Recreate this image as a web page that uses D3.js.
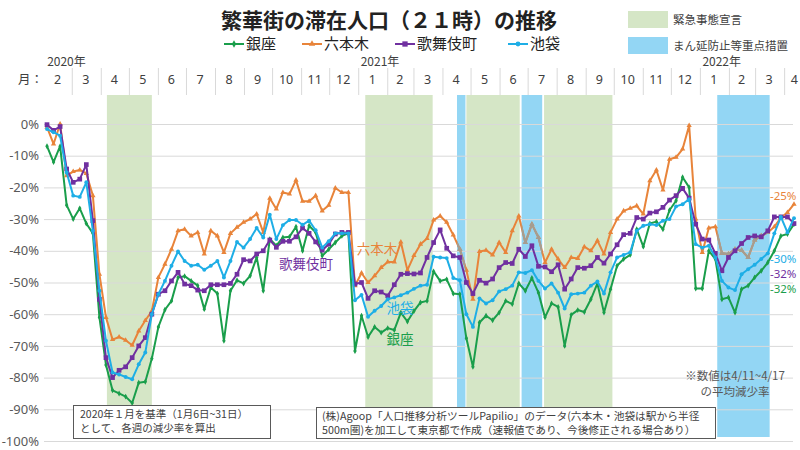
<!DOCTYPE html>
<html><head><meta charset="utf-8">
<script src="https://cdn.jsdelivr.net/npm/d3@7"></script>
<style>
body{margin:0;background:#fff;}
text{font-family:"Noto Sans CJK JP","Noto Sans",sans-serif;}
</style></head>
<body><svg id="chart" width="800" height="450"></svg>
<script>
// ---- data ----
const firstWeek = "2020-02-03", lastWeek = "2022-04-11";   // weekly categories (Mon)
const seriesNames = ["銀座","六本木","歌舞伎町","池袋"];
const ginza = [-7,-12,-7,-25.6,-30,-26.6,-31.4,-34.5,-61,-76,-84,-85,-86,-88,-81.6,-81.3,-74,-64,-58.6,-55.8,-48.4,-48,-49.5,-51,-58.4,-51.6,-53.5,-68.4,-52.6,-49.3,-50.3,-47.9,-42.1,-52.6,-36.3,-38.4,-35.8,-35.6,-32.4,-40,-32.1,-34.2,-41.6,-39.5,-37.4,-35.3,-34.5,-71.6,-60.5,-67.2,-64,-65.8,-64.4,-65,-59.5,-62.3,-59,-56.3,-55.8,-46.5,-49.5,-49,-53.5,-53.7,-67.6,-76.6,-62.6,-60.5,-61.9,-59.5,-55.8,-56.8,-50.3,-52.6,-48.6,-53.2,-61,-56.6,-57.7,-70,-60.2,-58.7,-59.3,-55.3,-50.3,-59.5,-52.1,-44.7,-42.6,-41.3,-33.2,-38.7,-31.4,-30.8,-33.2,-27.2,-24.2,-16.8,-20,-51.9,-51.9,-40,-42.6,-55.3,-54.7,-59.5,-52.1,-51,-48.4,-46.3,-43.7,-40,-35.3,-34.7,-31.6];
const roppongi = [-1,-6.3,0,-16.3,-15,-14.5,-15.6,-22.6,-47.4,-61,-68,-67.2,-68.2,-69.8,-65.3,-62,-59,-48.4,-44.2,-39.5,-33.7,-33.2,-35.3,-34.2,-41,-33.7,-35.3,-40.5,-34.5,-32.6,-31,-30,-28.4,-34.2,-23.4,-26.8,-21.6,-22.1,-17.7,-24.4,-24.4,-22.6,-27.4,-25.6,-20.2,-21.6,-21.6,-51,-47,-50,-47.9,-45.3,-43.5,-43.5,-37.2,-46.1,-41.5,-37.9,-36.1,-30.3,-29,-31,-35,-39.5,-46.1,-55.3,-40.2,-39.8,-41.3,-37.4,-40.5,-33.7,-29,-37.4,-31.6,-35.8,-43.7,-39.5,-42.6,-45.3,-42.1,-42.4,-38.7,-40,-36.8,-41,-34.2,-30,-27.4,-26.6,-25.8,-28.4,-17.9,-14.5,-20.8,-11.1,-10.5,-7.9,-0.5,-30,-40.5,-32.8,-32.4,-40.8,-41,-39.5,-39.8,-42.1,-36.6,-35.3,-34.2,-32.4,-29.5,-27.9,-25.3];
const kabukicho = [-0.2,-2,-0.8,-14.2,-18.4,-17.4,-12.8,-30.5,-55.3,-73.7,-80,-77.7,-76.6,-73.7,-70,-67.4,-60,-53.7,-52.6,-49.5,-46.8,-50.5,-51,-52.4,-52.6,-50.7,-50.7,-50.7,-50.3,-47.4,-42.8,-43.2,-41,-40,-36.6,-38.9,-37,-37,-35.6,-32.8,-34.5,-37.2,-39.8,-37.9,-34.7,-34.2,-34.2,-50.5,-50,-55,-52.6,-53,-54.2,-50.7,-47.4,-47.2,-47.3,-47,-42.1,-37.4,-33.4,-39.2,-41.6,-42.1,-50,-53.5,-49.3,-50.2,-48.9,-45.3,-43.7,-44,-39.5,-41.8,-38.4,-44.9,-45.1,-46.6,-44.4,-52.1,-48.9,-45.3,-45.5,-44.7,-42.1,-43.9,-41,-38.1,-34.9,-34.5,-29.5,-30,-28.1,-27.7,-26.3,-24,-22.6,-20.3,-23.4,-31.6,-36.3,-36.6,-40.8,-46.3,-42.1,-40,-37.7,-35.8,-35.3,-35.6,-33.7,-29.3,-29.3,-29.3,-31.4];
const ikebukuro = [-1.6,-2.6,-3.7,-15.3,-22.6,-23,-18.4,-33.7,-52.6,-68.4,-78.4,-79,-79.8,-80.5,-75.8,-72.1,-60,-53.7,-49.5,-44.7,-40.2,-43.2,-44.7,-44.4,-46,-44.7,-43.2,-48.4,-43.2,-37.2,-39,-36.3,-32.8,-35.8,-28.6,-36.3,-31.9,-30.3,-30.3,-31.8,-30.5,-33.5,-39,-37,-34.5,-34.5,-34.5,-55.6,-53.9,-60.8,-58.9,-57.4,-55.3,-54.7,-54,-53.2,-52,-51,-50.7,-41.9,-42.1,-42.3,-48.6,-49.3,-60,-64,-55,-56.6,-55.6,-52.8,-52.1,-51,-46.8,-47,-46.1,-49.5,-51.9,-50.3,-53.2,-58.2,-53.7,-53.5,-53.2,-51,-49.7,-53.5,-46.8,-42.1,-41.3,-40.5,-33.7,-32.1,-31.6,-31.9,-30.5,-30,-26,-25.3,-23.7,-37.9,-39,-38.4,-42.1,-49.5,-51.6,-52.4,-47.4,-45.8,-44.4,-42.6,-40.8,-34.5,-29.3,-34.2,-29.7];
const endLabels = ["-32%","-25%","-32%","-30%"];
const yTicks = [0,-10,-20,-30,-40,-50,-60,-70,-80,-90,-100];
const emergencyPeriods = [["2020-04-07","2020-05-25"],["2021-01-08","2021-03-21"],["2021-04-26","2021-06-22"],["2021-07-18","2021-09-29"]];
const priorityPeriods = [["2021-04-16","2021-04-25"],["2021-06-24","2021-07-16"],["2022-01-19","2022-03-16"]];
const monthStarts = ["2020-02-01","2020-03-01","2020-04-01","2020-05-01","2020-06-01","2020-07-01","2020-08-01","2020-09-01","2020-10-01","2020-11-01","2020-12-01","2021-01-01","2021-02-01","2021-03-01","2021-04-01","2021-05-01","2021-06-01","2021-07-01","2021-08-01","2021-09-01","2021-10-01","2021-11-01","2021-12-01","2022-01-01","2022-02-01","2022-03-01","2022-04-01","2022-04-24"];
const yearLabels = [["2020-02-01","2020年"],["2021-01-01","2021年"],["2022-01-01","2022年"]];
const title = "繁華街の滞在人口（２１時）の推移";
const legendShade = ["緊急事態宣言","まん延防止等重点措置"];
const note1 = ["2020年１月を基準（1月6日~31日）","として、各週の減少率を算出"];
const note2 = ["(株)Agoop「人口推移分析ツールPapilio」のデータ(六本木・池袋は駅から半径","500m圏)を加工して東京都で作成（速報値であり、今後修正される場合あり）"];
const note3 = ["※数値は4/11~4/17","の平均減少率"];

// ---- setup ----
const parse = d3.timeParse("%Y-%m-%d");
const weeks = d3.timeMonday.range(parse(firstWeek), d3.timeDay.offset(parse(lastWeek),1));
const colors = ["#1a9e4b","#e8843a","#7030a0","#1eaee6"];
const series = [ginza, roppongi, kabukicho, ikebukuro];
const svg = d3.select("#chart");
const x = d3.scaleTime().domain([weeks[0], weeks[weeks.length-1]]).range([47, 794]);
const y = d3.scaleLinear().domain([-100, 0]).range([441, 124]);
const plotTop = 95, plotBottom = 437;

// shading
const gShade = svg.append("g");
gShade.selectAll("rect.em").data(emergencyPeriods).join("rect")
  .attr("x", d => x(parse(d[0]))).attr("width", d => x(parse(d[1])) - x(parse(d[0])))
  .attr("y", plotTop).attr("height", plotBottom - plotTop).attr("fill", "#d5e6c6");
gShade.selectAll("rect.pr").data(priorityPeriods).join("rect")
  .attr("x", d => x(parse(d[0]))).attr("width", d => x(parse(d[1])) - x(parse(d[0])))
  .attr("y", plotTop).attr("height", plotBottom - plotTop).attr("fill", "#93d6f4");

// clip for priority periods (orange line appears greyed there)
svg.append("clipPath").attr("id", "prclip").selectAll("rect").data(priorityPeriods).join("rect")
  .attr("x", d => x(parse(d[0]))).attr("width", d => x(parse(d[1])) - x(parse(d[0])))
  .attr("y", plotTop).attr("height", plotBottom - plotTop);

// gridlines + y axis
const yAxis = d3.axisLeft(y).tickValues(yTicks).tickFormat(d => d + "%").tickSize(-(793-44));
const gy = svg.append("g").attr("transform", "translate(44,0)").call(yAxis);
gy.select(".domain").remove();
gy.selectAll(".tick line").attr("stroke", "#d9d9d9").attr("stroke-width", 1);
gy.selectAll(".tick text").attr("x", -5).attr("fill", "#595959").style("font-size", "13px")
  .style("font-family", "'Noto Sans','Noto Sans CJK JP',sans-serif");

// month axis
const ms = monthStarts.map(parse);
const gm = svg.append("g");
gm.selectAll("line").data(ms.slice(1, ms.length-1)).join("line")
  .attr("x1", d => x(d)).attr("x2", d => x(d)).attr("y1", 68).attr("y2", 95)
  .attr("stroke", "#d9d9d9");
gm.selectAll("text").data(ms.slice(0, ms.length-1)).join("text")
  .attr("x", (d,i) => (x(d) + x(ms[i+1]))/2 - 1).attr("y", 80).attr("dy", "0.35em")
  .attr("text-anchor", "middle").attr("fill", "#404040").style("font-size", "12.5px")
  .style("font-family", "'Noto Sans','Noto Sans CJK JP',sans-serif")
  .text(d => d.getMonth() + 1);
svg.append("text").attr("x", 18).attr("y", 80).attr("dy", "0.35em").attr("fill", "#404040")
  .style("font-size", "12.5px").text("月：");
svg.selectAll("text.yr").data(yearLabels).join("text").attr("class", "yr")
  .attr("x", d => x(parse(d[0])) + 2).attr("y", 62).attr("dy", "0.35em")
  .attr("fill", "#404040").style("font-size", "12px").text(d => d[1]);

// lines
const line = d3.line().x((d,i) => x(weeks[i])).y(d => y(d));
const shapes = [d3.symbolDiamond, d3.symbolTriangle, d3.symbolSquare, d3.symbolCircle];
const sizes = [10, 12, 22, 12];
series.forEach((s, k) => {
  const g = svg.append("g");
  g.append("path").datum(s).attr("d", line).attr("fill", "none")
    .attr("stroke", colors[k]).attr("stroke-width", 2).attr("stroke-linejoin", "round");
  g.selectAll("path.m").data(s).join("path").attr("class", "m")
    .attr("transform", (d,i) => `translate(${x(weeks[i])},${y(d)})`)
    .attr("d", d3.symbol().type(shapes[k]).size(sizes[k])).attr("fill", colors[k]);
  if (k === 1) {
    const gg = g.append("g").attr("clip-path", "url(#prclip)");
    gg.append("path").datum(s).attr("d", line).attr("fill", "none")
      .attr("stroke", "#a49d92").attr("stroke-width", 2).attr("stroke-linejoin", "round");
    gg.selectAll("path.m2").data(s).join("path").attr("class", "m2")
      .attr("transform", (d,i) => `translate(${x(weeks[i])},${y(d)})`)
      .attr("d", d3.symbol().type(shapes[k]).size(sizes[k])).attr("fill", "#a49d92");
  }
});

// end labels
const endY = [289, 196, 274, 259];
series.forEach((s, k) => {
  svg.append("text").attr("x", 770).attr("y", endY[k]).attr("dy", "0.35em")
    .attr("fill", colors[k]).style("font-size", "11.5px")
    .style("font-family", "'Noto Sans','Noto Sans CJK JP',sans-serif").text(endLabels[k]);
});

// in-chart series labels
const inLabels = [[400, 339, 0], [377, 249, 1], [306, 264, 2], [400, 308, 3]];
inLabels.forEach(([lx, ly, k]) => {
  svg.append("text").attr("x", lx).attr("y", ly).attr("dy", "0.35em").attr("text-anchor", "middle")
    .attr("fill", colors[k]).style("font-size", "13.5px").text(seriesNames[k]);
});

// title
svg.append("text").attr("x", 389).attr("y", 21).attr("dy", "0.35em").attr("text-anchor", "middle")
  .style("font-size", "21px").style("font-weight", "700").attr("fill", "#222").text(title);

// legend
const legX = [224, 302, 395, 508];
seriesNames.forEach((n, k) => {
  const g = svg.append("g").attr("transform", `translate(${legX[k]},44)`);
  g.append("line").attr("x1", 0).attr("x2", 20).attr("stroke", colors[k]).attr("stroke-width", 2);
  g.append("path").attr("transform", "translate(10,0)").attr("d", d3.symbol().type(shapes[k]).size(sizes[k]+6)).attr("fill", colors[k]);
  g.append("text").attr("x", 22).attr("dy", "0.35em").style("font-size", "15px").attr("fill", "#222").text(n);
});
const shadeCols = ["#d5e6c6", "#93d6f4"];
legendShade.forEach((n, k) => {
  const yy = k === 0 ? 11 : 37;
  svg.append("rect").attr("x", 628).attr("y", yy).attr("width", 40).attr("height", 17).attr("fill", shadeCols[k]);
  svg.append("text").attr("x", 673).attr("y", yy + 8.5).attr("dy", "0.35em").attr("fill", "#404040")
    .style("font-size", "11.5px").text(n);
});

// notes
function box(x0, y0, w, h, lines, tx, targetW) {
  svg.append("rect").attr("x", x0 + 0.5).attr("y", y0 + 0.5).attr("width", w).attr("height", h)
    .attr("fill", "#fff").attr("stroke", "#595959").attr("stroke-width", 1);
  const ts = lines.map((t, i) => svg.append("text").attr("x", tx).attr("y", y0 + 9 + i * 14.5).attr("dy", "0.35em")
      .attr("fill", "#404040").style("font-size", "11px").text(t));
  const wNow = ts[0].node().getComputedTextLength();
  const fs = Math.min(11.5, 11 * targetW / wNow);
  ts.forEach(t => t.style("font-size", fs + "px"));
}
box(73, 405, 197, 33, note1, 80, 168);
box(316, 407, 399, 31, note2, 322, 378);
note3.forEach((t, i) => {
  svg.append("text").attr("x", 735).attr("y", 376 + i * 16).attr("dy", "0.35em").attr("text-anchor", "middle")
    .attr("fill", "#595959").style("font-size", "11.5px").text(t);
});
</script></body></html>
